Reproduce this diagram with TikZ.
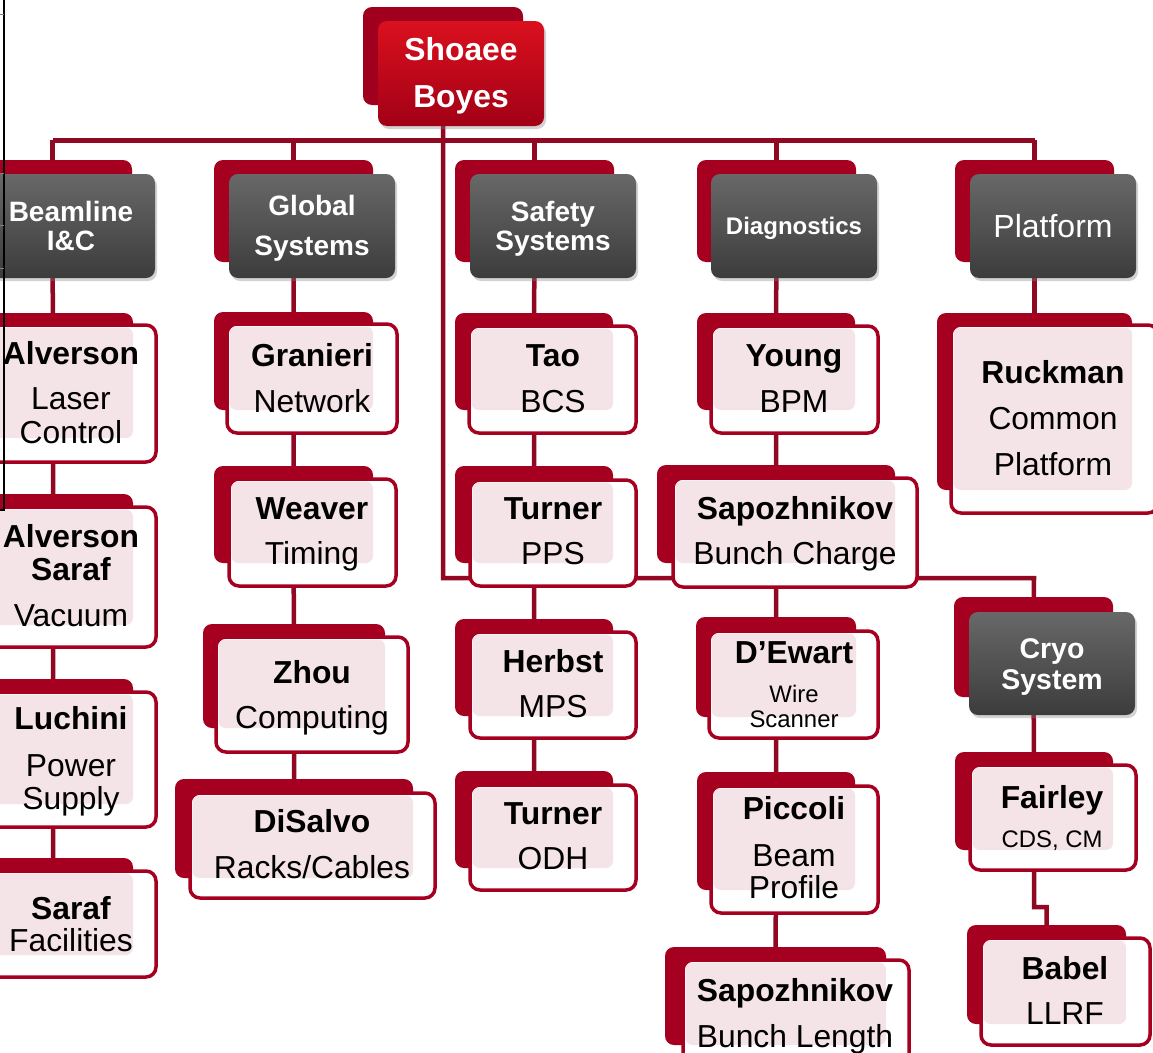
\documentclass[tikz,border=0pt]{standalone}
\usepackage{fontspec}
\setmainfont{Liberation Sans}
\usetikzlibrary{fit,shadows,calc}
\definecolor{redc}{RGB}{166,0,32}
\definecolor{redd}{RGB}{160,0,30}
\definecolor{lnc}{RGB}{145,8,35}
\definecolor{pinkc}{RGB}{245,228,231}
\definecolor{hdtop}{RGB}{104,104,104}
\definecolor{hdbot}{RGB}{60,60,60}
\definecolor{toptop}{RGB}{218,16,30}
\definecolor{topbot}{RGB}{162,0,22}
\pgfdeclarelayer{bg}
\pgfsetlayers{bg,main}
\tikzset{
  backbox/.style={draw=none, fill=redc, rounded corners=9pt, inner sep=0pt, outer sep=0pt},
  frontbox/.style={draw=redc, line width=3.5pt, fill=white, rounded corners=10pt, inner sep=0pt, outer sep=0pt},
  headfront/.style={draw=none, rounded corners=9pt, inner sep=0pt, outer sep=0pt, top color=hdtop, bottom color=hdbot,
     drop shadow={shadow xshift=2pt, shadow yshift=-3pt, opacity=.35}},
  topfront/.style={draw=none, rounded corners=9pt, inner sep=0pt, outer sep=0pt, top color=toptop, bottom color=topbot,
     drop shadow={shadow xshift=2pt, shadow yshift=-3pt, opacity=.35}},
  nm/.style={font=\fontsize{31.8}{31.8}\selectfont\bfseries, inner sep=0pt, anchor=base},
  rl/.style={font=\fontsize{31.8}{31.8}\selectfont, inner sep=0pt, anchor=base},
  sm/.style={font=\fontsize{23.9}{23.9}\selectfont, inner sep=0pt, anchor=base},
  hd/.style={font=\fontsize{28}{28}\selectfont\bfseries, text=white, inner sep=0pt, anchor=base},
  conn/.style={draw=lnc, line width=4.5pt},
}
\newcommand\pbox[5]{%
  \node[backbox, fit={#2 #3}] (#1b) {};
  \node[frontbox, fit={#4 #5}] (#1) {};
  \fill[pinkc, rounded corners=7pt] ([shift={(2.5,2.5)}]#1.north west) rectangle (#1b.south east);
}
\newcommand\headbox[5]{%
  \node[backbox, fit={#2 #3}] (#1b) {};
  \node[headfront, fit={#4 #5}] (#1) {};
}
\begin{document}
\begin{tikzpicture}[x=1pt,y=-1pt]
\useasboundingbox (0,0) rectangle (1153,1052);
\clip (0,0) rectangle (1153,1052);

% top box
\node[backbox, fill=redd, fit={(363,7) (523,105)}] (shb) {};
\node[topfront, fit={(378,21) (544,126)}] (sh) {};
\node[font=\fontsize{31.8}{31.8}\selectfont\bfseries, text=white, inner sep=0pt, anchor=base] (shN) at (461,60) {Shoaee};
\node[font=\fontsize{31.8}{31.8}\selectfont\bfseries, text=white, inner sep=0pt, anchor=base] (shR) at (461,107) {Boyes};

% headers
\headbox{bl}{(-27,160)}{(132,262)}{(-12,174)}{(155,278)}
\headbox{gs}{(214,160)}{(373,262)}{(229,174)}{(395,278)}
\headbox{ss}{(455,160)}{(614,262)}{(470,174)}{(636,278)}
\headbox{dg}{(697,160)}{(856,262)}{(711,174)}{(877,278)}
\headbox{pf}{(955,160)}{(1114,262)}{(970,174)}{(1136,278)}
\headbox{cr}{(954,597)}{(1113,697)}{(969,612)}{(1135,715)}

\node[hd] (blN) at (71,221) {Beamline};
\node[hd] (blR) at (71,250) {I\&C};
\node[hd] (gsN) at (312,215) {Global};
\node[hd] (gsR) at (312,255) {Systems};
\node[hd] (ssN) at (553,221) {Safety};
\node[hd] (ssR) at (553,250) {Systems};
\node[hd, font=\fontsize{24}{24}\selectfont\bfseries] (dgN) at (794,234.5) {Diagnostics};
\node[hd, font=\fontsize{32}{32}\selectfont] (pfN) at (1053,237) {Platform};
\node[hd, font=\fontsize{28.5}{28.5}\selectfont\bfseries] (crN) at (1052,658) {Cryo};
\node[hd, font=\fontsize{28.5}{28.5}\selectfont\bfseries] (crR) at (1052,689) {System};

% column 1
\pbox{aa}{(-27,313)}{(133,438)}{(-12,325)}{(156,462)}
\pbox{ab}{(-27,494)}{(133,625)}{(-12,507)}{(156,647)}
\pbox{lu}{(-27,679)}{(133,804)}{(-12,692)}{(156,827)}
\pbox{sa}{(-27,858)}{(133,955)}{(-12,871)}{(156,977)}
\node[nm] (aaN) at (71,364) {Alverson};
\node[rl] (aaR) at (71,409) {Laser};
\node[rl] (aaS) at (71,443) {Control};
\node[nm] (abN) at (71,547) {Alverson};
\node[nm] (abM) at (71,580) {Saraf};
\node[rl] (abR) at (71,626) {Vacuum};
\node[nm] (luN) at (71,729) {Luchini};
\node[rl] (luR) at (71,776) {Power};
\node[rl] (luS) at (71,809) {Supply};
\node[nm] (saN) at (71,919) {Saraf};
\node[rl] (saR) at (71,951) {Facilities};

% column 2
\pbox{gr}{(214,312)}{(373,410)}{(227,324)}{(397,433)}
\pbox{we}{(214,466)}{(373,563)}{(229,479)}{(396,586)}
\pbox{zh}{(203,624)}{(385,728)}{(216,637)}{(408,752)}
\pbox{di}{(175,779)}{(413,878)}{(190,793)}{(435,898)}
\node[nm] (grN) at (312,366) {Granieri};
\node[rl] (grR) at (312,412) {Network};
\node[nm] (weN) at (312,519) {Weaver};
\node[rl] (weR) at (312,564) {Timing};
\node[nm] (zhN) at (312,683) {Zhou};
\node[rl] (zhR) at (312,728) {Computing};
\node[nm] (diN) at (312,832) {DiSalvo};
\node[rl] (diR) at (312,878) {Racks/Cables};

% column 3
\pbox{ta}{(455,313)}{(613,410)}{(469,326)}{(636,433)}
\pbox{tu}{(455,466)}{(613,563)}{(470,480)}{(636,586)}
\pbox{he}{(455,619)}{(613,716)}{(470,632)}{(636,738)}
\pbox{tv}{(455,771)}{(613,868)}{(470,785)}{(636,890)}
\node[nm] (taN) at (553,366) {Tao};
\node[rl] (taR) at (553,412) {BCS};
\node[nm] (tuN) at (553,519) {Turner};
\node[rl] (tuR) at (553,564) {PPS};
\node[nm] (heN) at (553,672) {Herbst};
\node[rl] (heR) at (553,717) {MPS};
\node[nm] (tvN) at (553,824) {Turner};
\node[rl] (tvR) at (553,869) {ODH};

% column 4
\pbox{yo}{(697,313)}{(855,410)}{(711,326)}{(878,433)}
\pbox{sp}{(657,465)}{(895,563)}{(673,478)}{(917,587)}
\pbox{de}{(696,617)}{(856,717)}{(709,631)}{(878,738)}
\pbox{pi}{(697,772)}{(855,890)}{(711,786)}{(878,913)}
\pbox{sq}{(665,947)}{(886,1045)}{(683,960)}{(909,1075)}
\node[nm] (yoN) at (794,366) {Young};
\node[rl] (yoR) at (794,412) {BPM};
\node[nm] (spN) at (795,519) {Sapozhnikov};
\node[rl] (spR) at (795,564) {Bunch Charge};
\node[nm] (deN) at (794,663) {D’Ewart};
\node[sm] (deR) at (794,702.5) {Wire};
\node[sm] (deS) at (794,727.5) {Scanner};
\node[nm] (piN) at (794,819) {Piccoli};
\node[rl] (piR) at (794,866) {Beam};
\node[rl] (piS) at (794,898) {Profile};
\node[nm] (sqN) at (795,1001) {Sapozhnikov};
\node[rl] (sqR) at (795,1047) {Bunch Length};

% column 5
\pbox{ru}{(937,313)}{(1132,490)}{(951,325)}{(1158,513)}
\pbox{fa}{(955,752)}{(1113,850)}{(970,765)}{(1136,870)}
\pbox{ba}{(967,925)}{(1126,1024)}{(981,938)}{(1150,1045)}
\node[nm] (ruN) at (1053,383) {Ruckman};
\node[rl] (ruR) at (1053,429) {Common};
\node[rl] (ruS) at (1053,475) {Platform};
\node[nm] (faN) at (1052,808) {Fairley};
\node[sm] (faR) at (1052,847.5) {CDS, CM};
\node[nm] (baN) at (1065,979) {Babel};
\node[rl] (baR) at (1065,1024) {LLRF};

% connectors
\coordinate (bus) at (0,140);
\coordinate (crj) at (1034,578);
\coordinate (baj) at (1034,907);
\begin{pgfonlayer}{bg}
  \fill[white] (0,0) rectangle (1153,1052);
  \draw[conn, line width=5pt] (blb.north |- bus) -- (pfb.north |- bus);
  \foreach \h in {bl,gs,ss,dg,pf} {\draw[conn] (\h b.north |- bus) -- (\h b.center);}
  \draw[conn] (shb.center) |- (crj) -- (crb.center);
  \draw[conn] (blb.center) -- (aab.center) -- (abb.center) -- (lub.center) -- (sab.center);
  \draw[conn] (gsb.center) -- (grb.center) -- (web.center) -- (zhb.center) -- (dib.center);
  \draw[conn] (ssb.center) -- (tab.center) -- (tub.center) -- (heb.center) -- (tvb.center);
  \draw[conn] (dgb.center) -- (yob.center) -- (spb.center) -- (deb.center) -- (pib.center) -- (sqb.center);
  \draw[conn] (pfb.center) -- (rub.center);
  \draw[conn] (crb.center) -- (fab.center) -- (baj) -| (bab.center);
\end{pgfonlayer}

% slide edge remnants
\draw[black, line width=1.3pt] (4,0) -- (4,510) -- (0,510);
\foreach \yy in {14,173,225,268} {\draw[gray, line width=0.8pt] (0,\yy) -- (4,\yy);}
\end{tikzpicture}
\end{document}
